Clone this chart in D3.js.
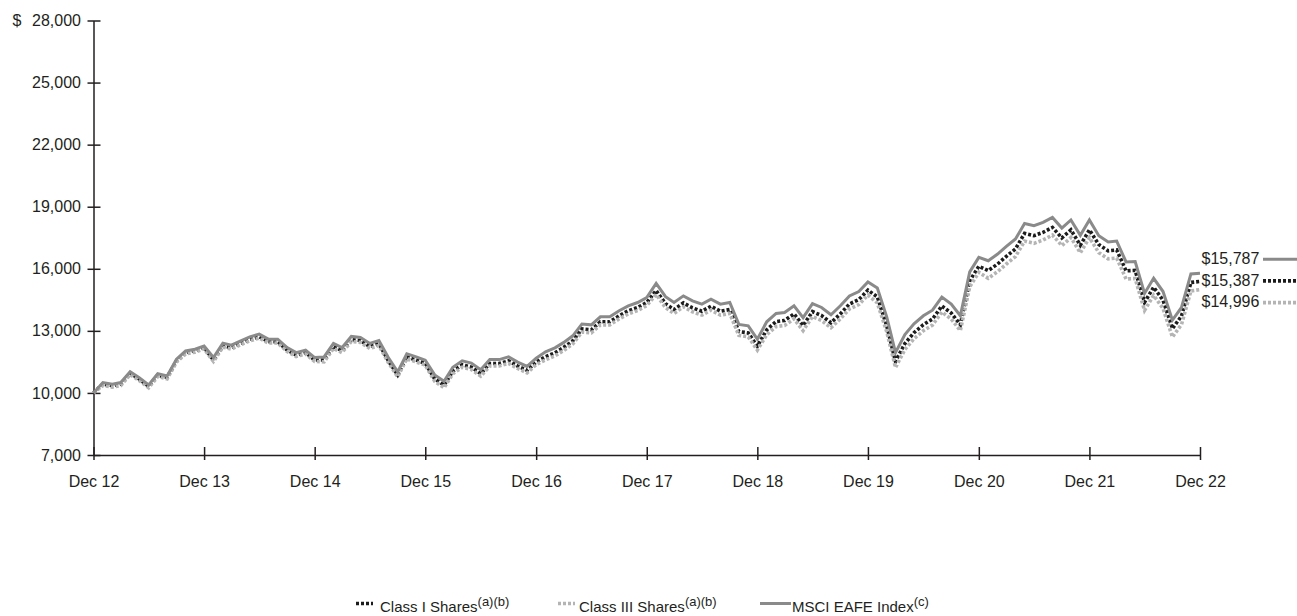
<!DOCTYPE html>
<html>
<head>
<meta charset="utf-8">
<script src="https://cdn.jsdelivr.net/npm/d3@7"></script>
<style>
  html, body { margin: 0; padding: 0; background: #fff; }
  svg { display: block; }
  text { font-family: "Liberation Sans", Arial, Helvetica, sans-serif; fill: #231f20; }
</style>
</head>
<body>
<svg id="chart" width="1297" height="616"></svg>
<script>
// Growth of a hypothetical $10,000 investment, month-end values Dec 2012 – Dec 2022
const yTicks = [7000, 10000, 13000, 16000, 19000, 22000, 25000, 28000];
const xTickLabels = ["Dec 12", "Dec 13", "Dec 14", "Dec 15", "Dec 16", "Dec 17",
                     "Dec 18", "Dec 19", "Dec 20", "Dec 21", "Dec 22"];

const msciEafe = [
  10000, 10500, 10420, 10500, 11030, 10740, 10390, 10930, 10820, 11630, 12030, 12110,
  12270, 11710, 12400, 12310, 12520, 12710, 12840, 12600, 12600, 12190, 11950, 12070,
  11710, 11740, 12390, 12190, 12730, 12680, 12390, 12530, 11710, 11020, 11890, 11740,
  11580, 10870, 10560, 11240, 11550, 11440, 11120, 11610, 11610, 11740, 11490, 11280,
  11680, 11990, 12180, 12430, 12760, 13330, 13290, 13680, 13680, 13970, 14210, 14370,
  14610, 15290, 14650, 14370, 14690, 14450, 14290, 14530, 14290, 14370, 13310, 13240,
  12600, 13440, 13840, 13890, 14210, 13640, 14320, 14130, 13780, 14210, 14690, 14900,
  15360, 15070, 13680, 11950, 12820, 13340, 13730, 14000, 14630, 14290, 13730, 15850,
  16550, 16390, 16710, 17070, 17440, 18190, 18080, 18240, 18480, 17970, 18360, 17620,
  18360, 17600, 17300, 17340, 16330, 16350, 14810, 15540, 14900, 13520, 14130, 15750,
  15787
];

const classI = [
  10000, 10430, 10350, 10430, 10960, 10670, 10320, 10860, 10750, 11560, 11960, 12040,
  12200, 11590, 12280, 12190, 12400, 12590, 12720, 12480, 12480, 12070, 11830, 11950,
  11590, 11590, 12240, 12040, 12580, 12530, 12240, 12380, 11560, 10870, 11740, 11590,
  11430, 10680, 10370, 11050, 11360, 11250, 10930, 11420, 11420, 11550, 11300, 11090,
  11490, 11750, 11940, 12190, 12520, 13090, 13050, 13440, 13440, 13730, 13970, 14130,
  14370, 14950, 14310, 14030, 14350, 14110, 13950, 14190, 13950, 14030, 12970, 12900,
  12260, 13050, 13450, 13500, 13820, 13250, 13930, 13740, 13390, 13820, 14300, 14510,
  14970, 14640, 13250, 11520, 12390, 12910, 13300, 13570, 14200, 13860, 13300, 15420,
  16120, 15910, 16230, 16590, 16960, 17710, 17600, 17760, 18000, 17490, 17880, 17140,
  17880, 17170, 16870, 16910, 15900, 15920, 14380, 15110, 14480, 13110, 13720, 15340,
  15387
];

const classIII = [
  10000, 10360, 10280, 10360, 10890, 10600, 10250, 10790, 10680, 11490, 11890, 11970,
  12130, 11520, 12210, 12120, 12330, 12520, 12650, 12410, 12410, 12000, 11760, 11880,
  11520, 11500, 12150, 11950, 12490, 12440, 12150, 12290, 11470, 10780, 11650, 11500,
  11340, 10560, 10250, 10930, 11240, 11130, 10810, 11300, 11300, 11430, 11180, 10970,
  11370, 11600, 11790, 12040, 12370, 12940, 12900, 13290, 13290, 13580, 13820, 13980,
  14220, 14760, 14120, 13840, 14160, 13920, 13760, 14000, 13760, 13840, 12780, 12710,
  12070, 12810, 13210, 13260, 13580, 13010, 13690, 13500, 13150, 13580, 14060, 14270,
  14730, 14350, 12960, 11230, 12100, 12620, 13010, 13280, 13910, 13570, 13010, 15130,
  15830, 15540, 15860, 16220, 16590, 17340, 17230, 17390, 17630, 17120, 17510, 16770,
  17510, 16780, 16480, 16520, 15510, 15530, 13990, 14720, 14080, 12700, 13310, 14930,
  14996
];

const months = d3.timeMonth.range(new Date(2012, 11, 1), new Date(2023, 0, 1));
const decembers = d3.range(2012, 2023).map(yr => new Date(yr, 11, 1));

const series = [
  { key: "classI",   name: "Class I Shares",   note: "(a)(b)", values: classI,   stroke: "#1c1c1c", width: 3.6, dash: "3,2" },
  { key: "classIII", name: "Class III Shares", note: "(a)(b)", values: classIII, stroke: "#b4b4b4", width: 3.6, dash: "3,2" },
  { key: "msci",     name: "MSCI EAFE Index",  note: "(c)",    values: msciEafe, stroke: "#8a8a8a", width: 3,   dash: null }
];

const svg = d3.select("#chart");
const ink = "#231f20";

const x = d3.scaleTime()
  .domain([months[0], months[months.length - 1]])
  .range([93.5, 1200]);

const y = d3.scaleLinear()
  .domain([7000, 28000])
  .range([455, 20.5]);

// Y axis with ticks crossing the axis line
const gy = svg.append("g")
  .attr("transform", `translate(${x.range()[0]},0)`)
  .call(d3.axisLeft(y)
    .tickValues(yTicks)
    .tickFormat(d3.format(","))
    .tickSize(6)
    .tickSizeOuter(0)
    .tickPadding(6.5));
gy.selectAll(".tick line").attr("x1", 7).attr("stroke", ink).attr("stroke-width", 1.5);
gy.select(".domain").attr("stroke", ink).attr("stroke-width", 1.5);
gy.selectAll(".tick text").attr("font-size", 16).attr("font-family", null).attr("fill", ink);

svg.append("text")
  .attr("x", 12.5)
  .attr("y", y(28000))
  .attr("dy", "0.32em")
  .attr("font-size", 16)
  .text("$");

// X axis
const gx = svg.append("g")
  .attr("transform", `translate(0,${y.range()[0]})`)
  .call(d3.axisBottom(x)
    .tickValues(decembers)
    .tickFormat((d, i) => xTickLabels[i])
    .tickSize(5)
    .tickSizeOuter(0)
    .tickPadding(15.5));
gx.selectAll(".tick line").attr("y1", -8).attr("stroke", ink).attr("stroke-width", 1.5);
gx.select(".domain").attr("stroke", ink).attr("stroke-width", 1.5);
gx.selectAll(".tick text").attr("font-size", 16).attr("font-family", null).attr("fill", ink);

// Lines
const line = d3.line()
  .x((d, i) => x(months[i]))
  .y(d => y(d));

svg.append("g").selectAll("path")
  .data(series)
  .join("path")
    .attr("d", s => line(s.values))
    .attr("fill", "none")
    .attr("stroke", s => s.stroke)
    .attr("stroke-width", s => s.width)
    .attr("stroke-dasharray", s => s.dash)
    .attr("stroke-linejoin", "miter");

// Ending value labels, spread vertically around their mean position
const ends = series
  .map(s => ({ s, v: s.values[s.values.length - 1] }))
  .sort((a, b) => b.v - a.v);
const gap = 21.7;
const meanY = d3.mean(ends, e => y(e.v)) - 1.5;
ends.forEach((e, i) => { e.ly = meanY + (i - (ends.length - 1) / 2) * gap; });

const endG = svg.append("g");
endG.selectAll("text")
  .data(ends)
  .join("text")
    .attr("x", 1201.5)
    .attr("y", e => e.ly)
    .attr("dy", "0.35em")
    .attr("font-size", 16)
    .text(e => "$" + d3.format(",")(e.v));
endG.selectAll("line")
  .data(ends)
  .join("line")
    .attr("x1", 1263)
    .attr("x2", 1297)
    .attr("y1", e => e.ly + 1)
    .attr("y2", e => e.ly + 1)
    .attr("stroke", e => e.s.stroke)
    .attr("stroke-width", e => e.s.width)
    .attr("stroke-dasharray", e => e.s.dash);

// Legend
const legendItems = [
  { s: series[0], x0: 356, x1: 373, tx: 380 },
  { s: series[1], x0: 558, x1: 575, tx: 579 },
  { s: series[2], x0: 760, x1: 791, tx: 792 }
];
const lg = svg.append("g");
legendItems.forEach(item => {
  lg.append("line")
    .attr("x1", item.x0).attr("x2", item.x1)
    .attr("y1", 603.5).attr("y2", 603.5)
    .attr("stroke", item.s.stroke)
    .attr("stroke-width", item.s.width)
    .attr("stroke-dasharray", item.s.dash);
  const t = lg.append("text")
    .attr("x", item.tx)
    .attr("y", 611.5)
    .attr("font-size", 15);
  t.append("tspan").text(item.s.name);
  t.append("tspan").attr("font-size", 13).attr("dy", -6).text(item.s.note);
});
</script>
</body>
</html>
